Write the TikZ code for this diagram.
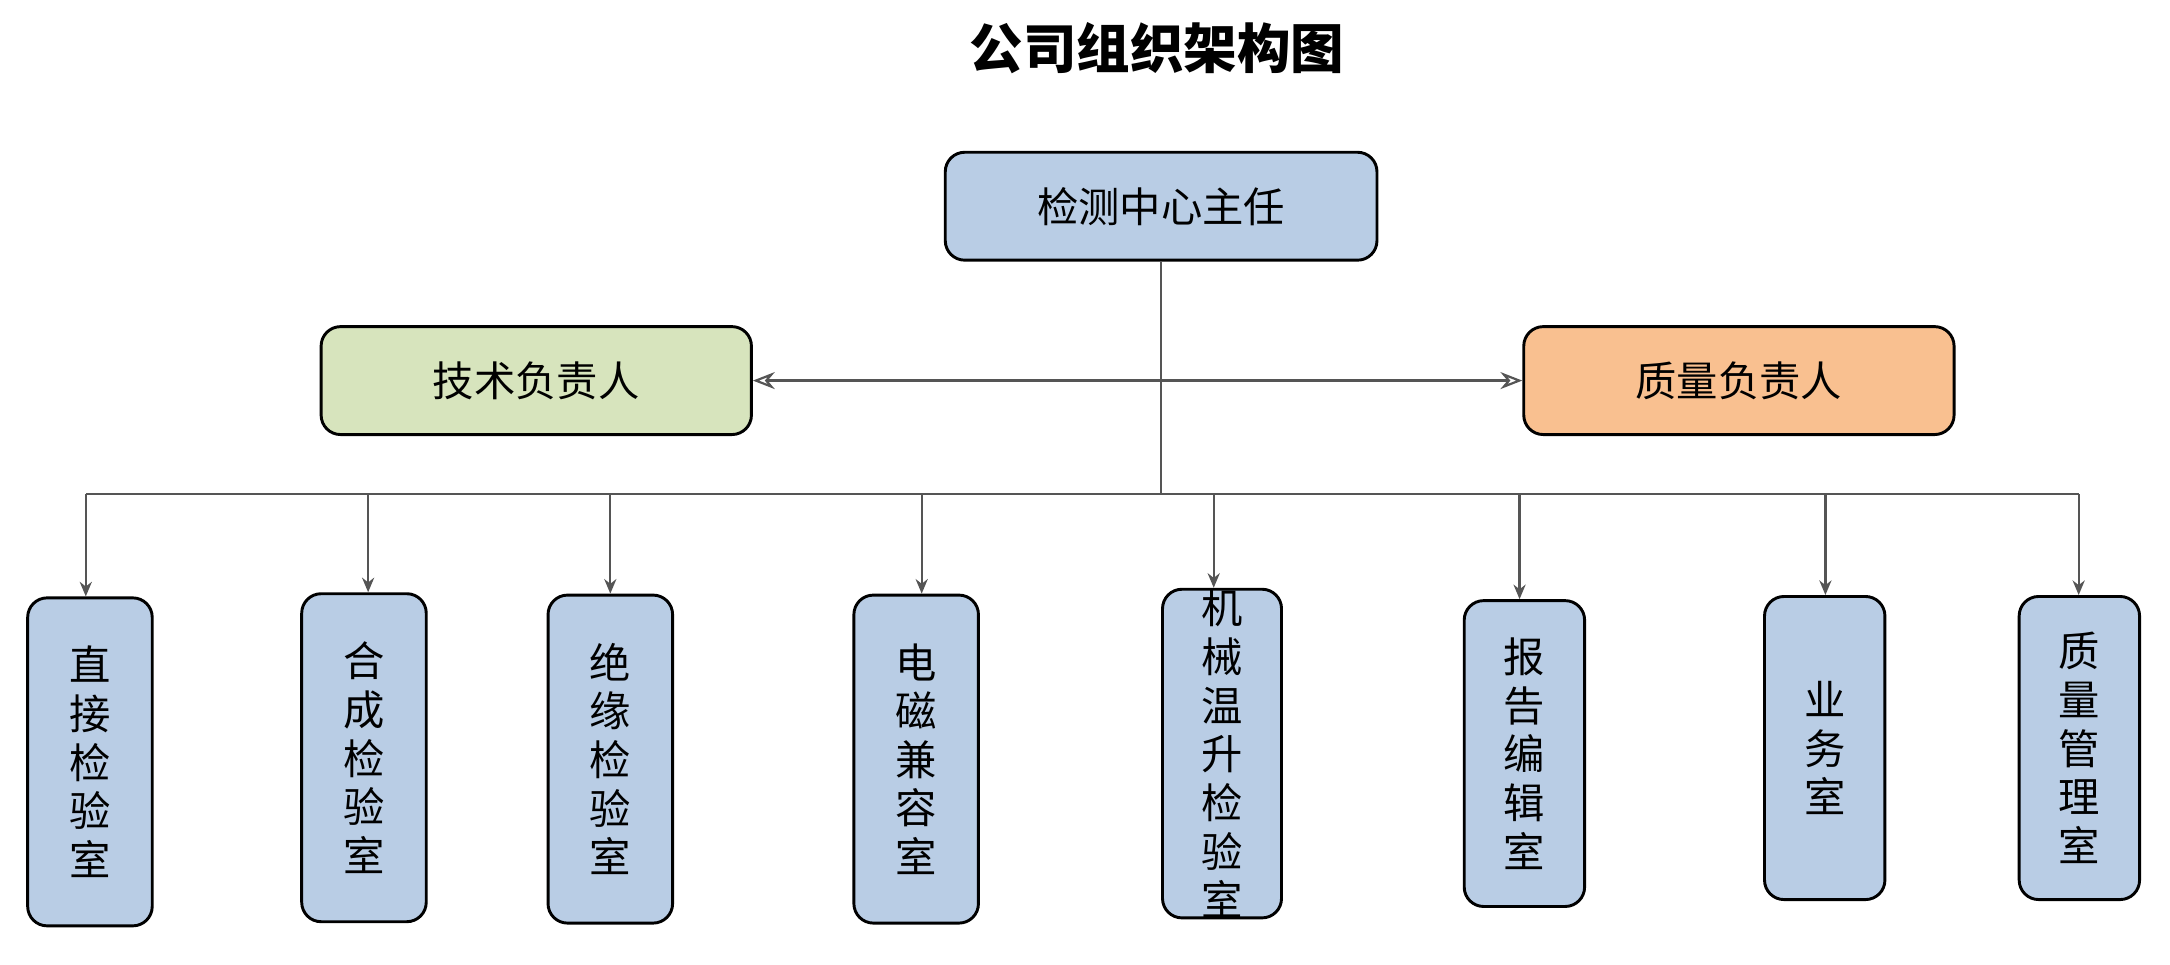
\documentclass[tikz,border=0pt]{standalone}
\usepackage{fontspec}
\setmainfont{Noto Sans CJK SC}
\usetikzlibrary{arrows.meta}
\definecolor{boxblue}{HTML}{B9CDE5}
\definecolor{boxgreen}{HTML}{D7E4BD}
\definecolor{boxorange}{HTML}{F9C090}
\definecolor{linegray}{HTML}{555555}
\begin{document}
\begin{tikzpicture}[x=0.02cm,y=-0.02cm,
  box/.style={draw=black,line width=1.2pt,rounded corners=8pt,inner sep=0pt,font=\fontsize{17}{19}\selectfont},
  vbox/.style={box,fill=boxblue,align=center,font=\fontsize{17}{20}\selectfont},
  conn/.style={draw=linegray,line width=0.9pt},
  arr/.style={conn,-{Stealth[length=6pt,width=5pt]}}]
\useasboundingbox (0,0) rectangle (1568,697);
\node[font=\bfseries\fontsize{22}{24}\selectfont] (title) at (836,35) {公司组织架构图};
\node[box,fill=boxblue,minimum width=6.24cm,minimum height=1.56cm] (top) at (839,149) {检测中心主任};
\node[box,fill=boxgreen,minimum width=6.22cm,minimum height=1.56cm] (tech) at (387.5,275) {技术负责人};
\node[box,fill=boxorange,minimum width=6.22cm,minimum height=1.56cm] (qual) at (1256.5,275) {质量负责人};
\coordinate (j) at (839,357);
\draw[conn] (top.south) -- (j);
\draw[conn,{Stealth[length=9pt,width=7pt,open]}-{Stealth[length=9pt,width=7pt,open]}] (tech.east) -- (qual.west);
\coordinate (bl) at (62,357);
\coordinate (br) at (1502,357);
\draw[conn] (bl) -- (br);
\foreach \n/\x/\ya/\yb/\w/\t in {
  b1/65/432/669/90/直\\接\\检\\验\\室,
  b2/263/429/666/90/合\\成\\检\\验\\室,
  b3/441/430/667/90/绝\\缘\\检\\验\\室,
  b4/662/430/667/90/电\\磁\\兼\\容\\室,
  b5/883/428/661/86/机\\械\\温\\升\\检\\验\\室,
  b6/1101.5/434/655/87/报\\告\\编\\辑\\室,
  b7/1318.5/431/650/87/业\\务\\室,
  b8/1502.5/431/650/87/质\\量\\管\\理\\室}{
  \node[vbox,minimum width=\w*0.02cm,minimum height={(\yb-\ya)*0.02cm}] (\n) at (\x,{(\ya+\yb)/2}) {\t};
}
\foreach \n/\x in {b1/62,b2/266,b3/441,b4/666,b5/877,b6/1098,b7/1319,b8/1502}{
  \coordinate (s\n) at (\x,357);
  \draw[arr] (s\n) -- (s\n |- \n.north);
}
\end{tikzpicture}
\end{document}
